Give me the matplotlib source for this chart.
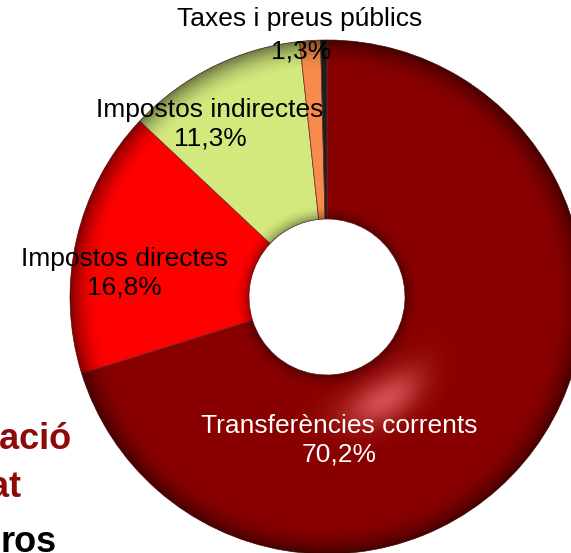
import numpy as np
import matplotlib.pyplot as plt
from matplotlib.patches import Wedge

plt.rcParams['font.family'] = ['Liberation Sans', 'DejaVu Sans']

# data
labels = ["Transferències corrents", "Impostos directes", "Impostos indirectes",
          "Taxes i preus públics", "Altres"]
values = [70.2, 16.8, 11.3, 1.3, 0.4]
pct_text = ["70,2%", "16,8%", "11,3%", "1,3%", ""]
colors = ["#880000", "#FF0000", "#D3E97E", "#F68B4C", "#1E1E1E"]

W, H = 571, 553
fig = plt.figure(figsize=(W / 100, H / 100), dpi=100)
ax = fig.add_axes([0, 0, 1, 1])

# donut centre / radii in pixels (y measured from top of image)
cx, cy_top = 327, 297
cy = H - cy_top
R, r_in = 257, 78

wedges, _ = ax.pie(values, colors=colors, startangle=90, counterclock=False,
                   center=(cx, cy), radius=R, frame=True,
                   wedgeprops=dict(width=R - r_in, edgecolor='#6a2a2a', linewidth=0.5))
ax.set_xlim(0, W)
ax.set_ylim(0, H)
ax.set_aspect('equal')
ax.axis('off')

# soft 3d-ish shading clipped to the ring
yy, xx = np.mgrid[0:H, 0:W] + 0.5
d = np.hypot(xx - cx, yy - cy_top)
th = np.arctan2(yy - cy_top, xx - cx)
shade = np.zeros((H, W, 4))
a_out = np.clip((d - 0.88 * R) / (0.12 * R), 0, 1) ** 2 * 0.5
a_in = np.clip((r_in + 16 - d) / 16, 0, 1) ** 2 * 0.35
shade[..., 3] = a_out + a_in
img = ax.imshow(shade, extent=(0, W, 0, H), origin='upper', zorder=3, interpolation='bilinear')
hl = np.zeros((H, W, 4))
hl[..., 0] = 1.0
hl[..., 1] = 0.5
hl[..., 2] = 0.5
th0 = np.arctan2(100, 56)
hl[..., 3] = 0.62 * np.exp(-((d - 118) / 22) ** 2) * np.exp(-((th - th0) / 0.38) ** 2)
img2 = ax.imshow(hl, extent=(0, W, 0, H), origin='upper', zorder=3, interpolation='bilinear')
ring = Wedge((cx, cy), R, 0, 360, width=R - r_in, transform=ax.transData)
img.set_clip_path(ring)
img2.set_clip_path(ring)
ax.set_xlim(0, W)
ax.set_ylim(0, H)

fs = 19
ax.text(339, H - 440, labels[0] + "\n" + pct_text[0], ha='center', va='center',
        fontsize=fs, color='white', linespacing=1.25, zorder=5)
ax.text(124, H - 273, labels[1] + "\n" + pct_text[1], ha='center', va='center',
        fontsize=fs, color='black', linespacing=1.25, zorder=5)
ax.text(210, H - 124, labels[2] + "\n" + pct_text[2], ha='center', va='center',
        fontsize=fs, color='black', linespacing=1.25, zorder=5)
ax.text(300, H - 19, labels[3], ha='center', va='center', fontsize=fs, color='black', zorder=5)
ax.text(301, H - 52, pct_text[3], ha='center', va='center', fontsize=fs, color='black', zorder=5)

# title fragments cut off at the left edge
fig.text(72 / W, 1 - 449 / H, "dació", ha='right', va='baseline', fontsize=26,
         fontweight='bold', color='#8E0A0A')
fig.text(21 / W, 1 - 497 / H, "at", ha='right', va='baseline', fontsize=26,
         fontweight='bold', color='#8E0A0A')
fig.text(57 / W, 1 - 552 / H, "ros", ha='right', va='baseline', fontsize=26,
         fontweight='bold', color='black')

fig.savefig("out.png", dpi=100)
